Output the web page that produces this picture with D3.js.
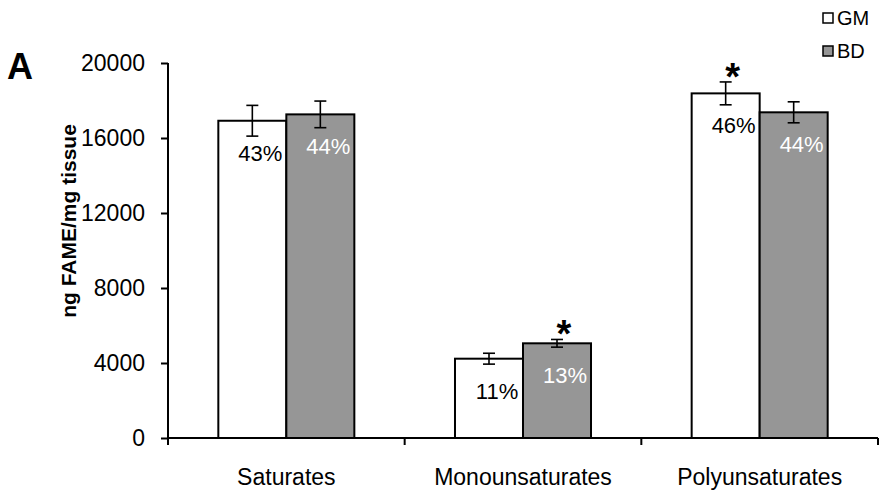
<!DOCTYPE html>
<html>
<head>
<meta charset="utf-8">
<script src="https://cdn.jsdelivr.net/npm/d3@7"></script>
<style>
    body { margin: 0; background: #fff; }
    svg { display: block; font-family: "Liberation Sans", Arial, sans-serif; }
</style>
</head>
<body>
<svg id="chart" width="879" height="493"></svg>
<script>
(function () {
    "use strict";
    // data
    var categories = ["Saturates", "Monounsaturates", "Polyunsaturates"],
        series = ["GM", "BD"],
        gmValues = [16920, 4230, 18380],
        gmErrors = [820, 290, 610],
        bdValues = [17260, 5050, 17370],
        bdErrors = [710, 205, 560],
        gmPercents = ["43%", "11%", "46%"],
        bdPercents = ["44%", "13%", "44%"],
        gmStars = [false, false, true],
        bdStars = [false, true, false],
        yTicks = [0, 4000, 8000, 12000, 16000, 20000],
        FILLS = {GM: "#ffffff", BD: "#969696"},
        TEXT_FILLS = {GM: "#000000", BD: "#ffffff"},
        left = 168, right = 878, top = 63, bottom = 438,
        svg = d3.select("#chart"),
        rows = [],
        x0, x1, y, g, bars;

    categories.forEach(function (c, i) {
        rows.push({cat: c, key: "GM", value: gmValues[i], err: gmErrors[i], pct: gmPercents[i], star: gmStars[i]});
        rows.push({cat: c, key: "BD", value: bdValues[i], err: bdErrors[i], pct: bdPercents[i], star: bdStars[i]});
    });

    x0 = d3.scaleBand().domain(categories).range([left, right]).padding(0);
    x1 = d3.scaleBand().domain(series).range([0, x0.bandwidth()])
        .paddingInner(0).paddingOuter(0.74);
    y = d3.scaleLinear().domain([0, 20000]).range([bottom, top]);

    g = svg.append("g");

    // bars
    bars = g.selectAll(".bar").data(rows).enter().append("g")
        .attr("transform", function (d) { return "translate(" + (x0(d.cat) + x1(d.key)) + ",0)"; });

    bars.append("rect")
        .attr("x", 0)
        .attr("y", function (d) { return y(d.value); })
        .attr("width", x1.bandwidth())
        .attr("height", function (d) { return y(0) - y(d.value); })
        .attr("fill", function (d) { return FILLS[d.key]; })
        .attr("stroke", "#000")
        .attr("stroke-width", 2);

    // error bars
    bars.each(function (d) {
        var el = d3.select(this),
            cx = x1.bandwidth() / 2,
            hi = y(d.value + d.err),
            lo = y(d.value - d.err);
        el.append("line").attr("x1", cx).attr("x2", cx).attr("y1", hi).attr("y2", lo);
        el.append("line").attr("x1", cx - 6).attr("x2", cx + 6).attr("y1", hi).attr("y2", hi);
        el.append("line").attr("x1", cx - 6).attr("x2", cx + 6).attr("y1", lo).attr("y2", lo);
        el.selectAll("line").attr("stroke", "#000").attr("stroke-width", 1.6);
        if (d.star) {
            el.append("text")
                .attr("x", cx + 7)
                .attr("y", hi + 8)
                .attr("text-anchor", "middle")
                .attr("font-size", 38)
                .attr("font-weight", "bold")
                .text("*");
        }
    });

    // percentage labels
    bars.append("text")
        .attr("x", x1.bandwidth() / 2 + 8)
        .attr("y", function (d) { return y(d.value) + 40; })
        .attr("text-anchor", "middle")
        .attr("font-size", 22)
        .attr("fill", function (d) { return TEXT_FILLS[d.key]; })
        .text(function (d) { return d.pct; });

    // y axis
    g.append("g")
        .attr("transform", "translate(" + left + ",0)")
        .call(d3.axisLeft(y).tickValues(yTicks).tickSize(7).tickPadding(16)
            .tickFormat(d3.format("d")))
        .call(function (a) {
            a.select(".domain").attr("d", "M0," + top + "V" + (bottom + 7)).attr("stroke-width", 2);
            a.selectAll(".tick line").attr("stroke-width", 2);
            a.selectAll("text").attr("font-size", 23).attr("font-family", null);
        });

    // x axis
    g.append("g")
        .attr("transform", "translate(0," + bottom + ")")
        .call(d3.axisBottom(x0).tickSize(0).tickPadding(31))
        .call(function (a) {
            a.select(".domain").attr("d", "M" + left + ",0H" + right).attr("stroke-width", 2);
            a.selectAll("text").attr("font-size", 23).attr("font-family", null);
        });

    // category boundary ticks
    g.selectAll(".xbound").data(categories.concat([null])).enter().append("line")
        .attr("x1", function (d, i) { return left + i * x0.step(); })
        .attr("x2", function (d, i) { return left + i * x0.step(); })
        .attr("y1", bottom)
        .attr("y2", bottom + 7)
        .attr("stroke", "#000")
        .attr("stroke-width", 2);

    // y axis title
    svg.append("text")
        .attr("transform", "translate(76,221) rotate(-90)")
        .attr("text-anchor", "middle")
        .attr("font-size", 21)
        .attr("font-weight", "bold")
        .text("ng FAME/mg tissue");

    // panel letter
    svg.append("text")
        .attr("x", 7)
        .attr("y", 79)
        .attr("font-size", 36)
        .attr("font-weight", "bold")
        .text("A");

    // legend
    var legend = svg.selectAll(".legend").data(series).enter().append("g")
        .attr("transform", function (d, i) { return "translate(823," + (13 + i * 33) + ")"; });
    legend.append("rect")
        .attr("width", 10).attr("height", 10)
        .attr("fill", function (d) { return FILLS[d]; })
        .attr("stroke", "#000").attr("stroke-width", 1.5);
    legend.append("text")
        .attr("x", 14).attr("y", 12)
        .attr("font-size", 20)
        .text(function (d) { return d; });
}());
</script>
</body>
</html>
